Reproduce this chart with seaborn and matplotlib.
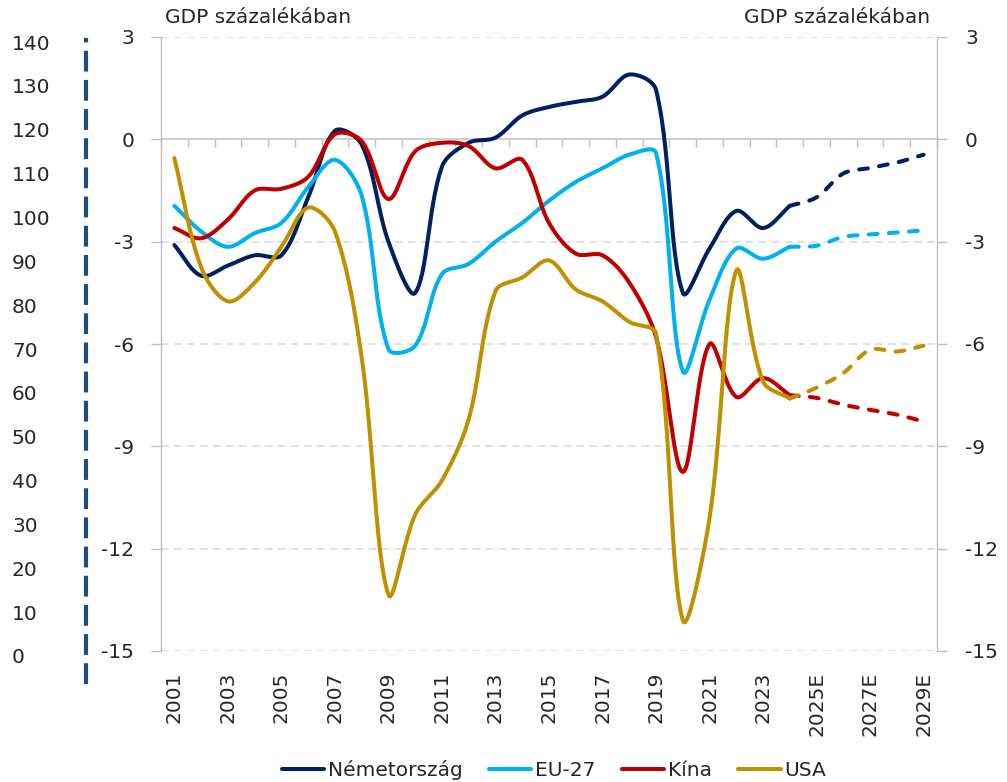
import numpy as np
import seaborn as sns
import matplotlib.pyplot as plt

# ---- data (general government balance, % of GDP) ----
years = ["2001", "2002", "2003", "2004", "2005", "2006", "2007", "2008", "2009", "2010",
         "2011", "2012", "2013", "2014", "2015", "2016", "2017", "2018", "2019", "2020",
         "2021", "2022", "2023", "2024", "2025E", "2026E", "2027E", "2028E", "2029E"]

germany = [-3.1, -4.0, -3.7, -3.4, -3.4, -1.7, 0.25, -0.15, -3.0, -4.5,
           -0.8, -0.1, 0.05, 0.7, 0.95, 1.1, 1.25, 1.9, 1.45, -4.5,
           -3.2, -2.1, -2.6, -1.95, -1.7, -1.0, -0.84, -0.68, -0.45]
eu27 = [-1.95, -2.7, -3.15, -2.75, -2.45, -1.4, -0.6, -1.65, -6.15, -6.05,
        -3.95, -3.65, -3.0, -2.45, -1.8, -1.25, -0.85, -0.45, -0.4, -6.8,
        -4.7, -3.2, -3.5, -3.15, -3.12, -2.86, -2.79, -2.73, -2.67]
china = [-2.6, -2.9, -2.35, -1.5, -1.45, -1.1, 0.15, -0.05, -1.75, -0.35,
         -0.1, -0.2, -0.85, -0.6, -2.45, -3.35, -3.4, -4.2, -5.8, -9.75,
         -6.0, -7.55, -7.0, -7.5, -7.58, -7.78, -7.93, -8.07, -8.27]
usa = [-0.55, -3.75, -4.75, -4.2, -3.15, -2.0, -2.7, -6.4, -13.35, -11.0,
       -10.0, -8.2, -4.45, -4.05, -3.55, -4.4, -4.75, -5.35, -5.7, -14.1,
       -11.1, -3.85, -7.1, -7.6, -7.28, -6.85, -6.17, -6.22, -6.05]

series_names = ["Németország", "EU-27", "Kína", "USA"]
series_values = [germany, eu27, china, usa]
series_colors = ["#002060", "#00b0f0", "#c00000", "#bf9000"]
first_forecast = 23  # dashed part starts at 2024

left_scale_ticks = [0, 10, 20, 30, 40, 50, 60, 70, 80, 90, 100, 110, 120, 130, 140]
main_ticks = [3, 0, -3, -6, -9, -12, -15]
title_text = "GDP százalékában"

PX_X, PX_Y = 26.76, 34.1  # screen pixels per category / per unit


def smooth(xs, ys, n=30):
    # Excel-like smoothed line: Bezier through the points, control arms
    # weighted by the neighbouring segment lengths on screen
    P = np.column_stack([np.asarray(xs, float) * PX_X, np.asarray(ys, float) * PX_Y])
    m = len(P)
    c_out, c_in = np.zeros_like(P), np.zeros_like(P)
    for i in range(m):
        prev = P[max(i - 1, 0)]
        nxt = P[min(i + 1, m - 1)]
        tan = nxt - prev
        d_prev = np.hypot(*(P[i] - prev))
        d_next = np.hypot(*(nxt - P[i]))
        tot = d_prev + d_next
        if tot == 0:
            c_out[i] = c_in[i] = P[i]
            continue
        c_out[i] = P[i] + tan * d_next / tot / 3
        c_in[i] = P[i] - tan * d_prev / tot / 3
    t = np.linspace(0, 1, n, endpoint=False)[:, None]
    pts = []
    for i in range(m - 1):
        p1, c1, c2, p2 = P[i], c_out[i], c_in[i + 1], P[i + 1]
        pts.append((1 - t) ** 3 * p1 + 3 * (1 - t) ** 2 * t * c1
                   + 3 * (1 - t) * t ** 2 * c2 + t ** 3 * p2)
    pts.append(P[-1:])
    pts = np.vstack(pts)
    return pts[:, 0] / PX_X, pts[:, 1] / PX_Y


sns.set_style("white")
plt.rcParams['font.family'] = ['DejaVu Sans']
plt.rcParams['font.size'] = 14.5
plt.rcParams['axes.unicode_minus'] = False

W, H = 1007, 782
fig = plt.figure(figsize=(W / 100, H / 100), dpi=100)
ax = fig.add_axes([161 / W, 1 - 651 / H, (937 - 161) / W, (651 - 37) / H])

grid_col = "#d9d9d9"
axis_col = "#bfbfbf"

# ---- lines ----
idx = np.arange(len(years))
handles = []
for name, vals, col in zip(series_names, series_values, series_colors):
    vals = np.array(vals)
    sx, sy = smooth(idx[:first_forecast + 1], vals[:first_forecast + 1])
    sns.lineplot(x=sx, y=sy, ax=ax, color=col, linewidth=2.9, sort=False,
                 estimator=None, solid_capstyle='round', zorder=3)
    handles.append(ax.lines[-1])
    fx, fy = smooth(idx[first_forecast:], vals[first_forecast:])
    sns.lineplot(x=fx, y=fy, ax=ax, color=col, linewidth=2.9, sort=False,
                 estimator=None, linestyle=(0, (2.2, 2.8)), dash_capstyle='round', zorder=3)
if ax.get_legend() is not None:
    ax.get_legend().remove()

ax.set_xlim(-0.5, len(years) - 0.5)
ax.set_ylim(-15, 3)
ax.set_yticks(main_ticks)
ax.set_yticklabels([str(v) for v in main_ticks])
ax.yaxis.grid(True, color=grid_col, linewidth=1.1, linestyle=(0, (5, 3.5)))
ax.set_axisbelow(True)
ax.axhline(0, color="#d0d0d0", linewidth=1.4, zorder=1)
for s in ["top", "bottom", "right"]:
    ax.spines[s].set_visible(False)
ax.spines["left"].set_color(axis_col)
ax.spines["left"].set_linewidth(1)
ax.tick_params(axis="y", length=7.2, width=1, color=axis_col, pad=12, direction="out")
ax.set_xticks(idx[::2])
ax.set_xticklabels(years[::2], rotation=90)
ax.tick_params(axis="x", length=0, pad=15)
ax.set_xlabel("")
ax.set_ylabel("")

# category tick marks hanging from the zero line
sec = ax.secondary_xaxis(15 / 18)
sec.set_xticks(np.arange(-0.5, len(years), 1))
sec.set_xticklabels([])
sec.tick_params(direction="in", length=5.8, width=1, color=axis_col)
for s in sec.spines.values():
    s.set_visible(False)

# right axis
ax2 = ax.twinx()
ax2.set_ylim(-15, 3)
ax2.set_yticks(main_ticks)
ax2.set_yticklabels([str(v) for v in main_ticks])
for s in ["top", "bottom", "left"]:
    ax2.spines[s].set_visible(False)
ax2.spines["right"].set_color(axis_col)
ax2.spines["right"].set_linewidth(1)
ax2.tick_params(axis="y", length=7.2, width=1, color=axis_col, pad=13, direction="out")

# outer left scale with dashed spine
ax3 = fig.add_axes([86 / W, 1 - 682 / H, 0.001, (682 - 40) / H])
ax3.patch.set_visible(False)
ax3.set_ylim(-5.93, 140.46)
ax3.set_yticks(left_scale_ticks)
ax3.set_yticklabels([str(v) for v in left_scale_ticks])
ax3.set_xticks([])
for s in ["top", "bottom", "right"]:
    ax3.spines[s].set_visible(False)
ax3.spines["left"].set_color("#1f4e79")
ax3.spines["left"].set_linewidth(3)
ax3.spines["left"].set_linestyle((0, (4.0, 3.0)))
ax3.tick_params(axis="y", length=0, pad=53.3)
for lbl in ax3.get_yticklabels():
    lbl.set_horizontalalignment("left")

# titles
fig.text(165 / W, 1 - 23 / H, title_text, ha="left", va="baseline")
fig.text(930 / W, 1 - 23 / H, title_text, ha="right", va="baseline")

# legend
fig.legend(handles, series_names, loc="center", bbox_to_anchor=(554 / W, 1 - 770 / H),
           ncol=4, frameon=False, handlelength=2.1, handletextpad=0.2,
           columnspacing=1.3, borderaxespad=0, borderpad=0)

plt.savefig("out.png", dpi=100)
